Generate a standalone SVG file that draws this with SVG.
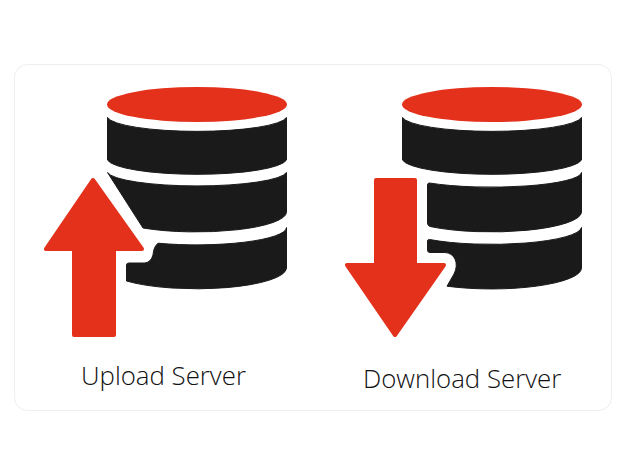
<svg xmlns="http://www.w3.org/2000/svg" width="626" height="475" viewBox="0 0 626 475">
<style>
.red{fill:#e3311c;stroke:#e3311c;stroke-width:4;stroke-linejoin:round}
.top{fill:#e3311c}
.blk{fill:#1a1a1a;stroke:#1a1a1a;stroke-width:1;stroke-linejoin:round}
.lbl{font-family:"Open Sans","Noto Sans",sans-serif;font-weight:300;font-size:25.800px;fill:#111}
</style>
<rect width="626" height="475" fill="#fff"/>
<rect id="card" x="14.500" y="64.500" width="597" height="346" rx="13" fill="#fff" stroke="#eeeeee" stroke-width="1"/>
<g id="upload-server">
<ellipse class="top" cx="197" cy="104.500" rx="90" ry="17.500"/>
<path class="blk" d="M107.500 117.500A90 15.500 0 0 0 286.500 117.500V160A90 16 0 0 1 107.500 160Z"/>
<path class="blk" d="M107.500 172.500A90 15 0 0 0 286.500 172.500V212A90 20 0 0 1 143 228Z"/>
<path class="blk" d="M158 243.200A90 17.500 0 0 0 286.500 227.500V268A90 21 0 0 1 126.500 281V265Q126.500 263 129 263H145Q151 262 153 255Q153.500 247 158 243.200Z"/>
<path class="red" d="M93 180L46 249H74V335H114V249H142Z"/>
<text class="lbl" x="81" y="385">Upload Server</text>
</g>
<g id="download-server">
<ellipse class="top" cx="492" cy="104.500" rx="90" ry="17.500"/>
<path class="blk" d="M402.500 117.500A90 15.500 0 0 0 581.500 117.500V160A90 16 0 0 1 402.500 160Z"/>
<path class="blk" d="M429.500 183A90 15 0 0 0 581.500 172.500V212A90 20 0 0 1 430 226.500Q427.500 225.500 427.500 223V185Q427.500 183 429.500 183Z"/>
<path class="blk" d="M429.500 239.500A90 17.500 0 0 0 581.500 227.500V268A90 21 0 0 1 447 286.200L454 274Q458 266 455 259Q452 253 445 252.500H430Q427.500 252.500 427.500 250V241Q427.500 239.500 429.500 239.500Z"/>
<path class="red" d="M376 180H415V265H444L395 335L347 265H376Z"/>
<text class="lbl" x="363" y="388">Download Server</text>
</g>
</svg>
